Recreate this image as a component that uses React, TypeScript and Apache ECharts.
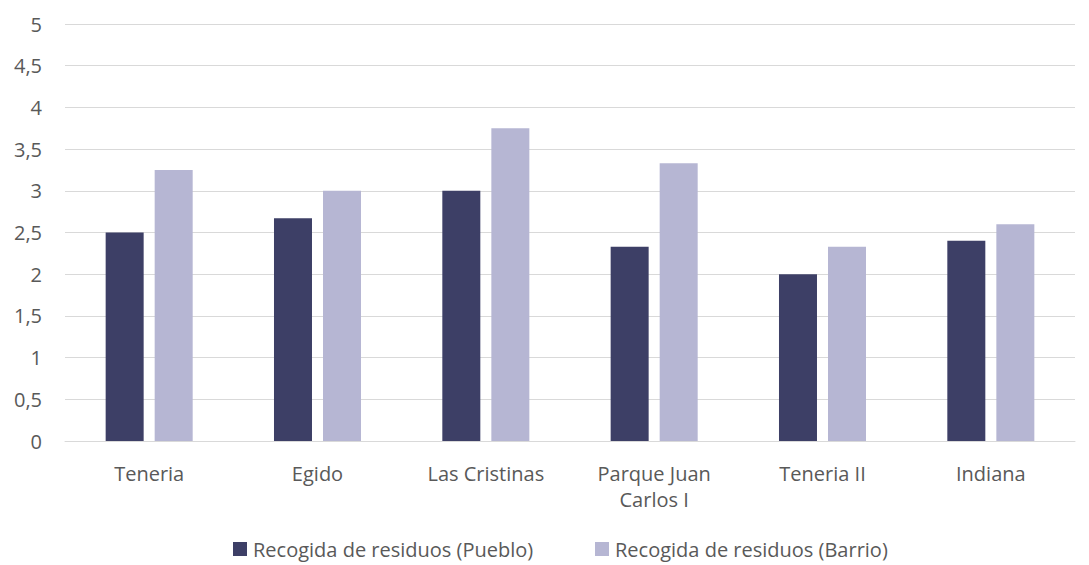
import React, { useEffect, useRef } from "react";
import * as echarts from "echarts";

const categories = ["Teneria", "Egido", "Las Cristinas", "Parque Juan\nCarlos I", "Teneria II", "Indiana"];
const pueblo = [2.5, 2.67, 3.0, 2.33, 2.0, 2.4];
const barrio = [3.25, 3.0, 3.75, 3.33, 2.33, 2.6];
const seriesNames = ["Recogida de residuos (Pueblo)", "Recogida de residuos (Barrio)"];

export default function App() {
  const ref = useRef<HTMLDivElement>(null);
  useEffect(() => {
    if (!ref.current) return;
    const chart = echarts.init(ref.current, null, { renderer: "svg" });
    const font = "'Open Sans', 'Noto Sans', sans-serif";
    const legendCommon = {
      top: 539,
      padding: 0,
      itemWidth: 14,
      itemHeight: 14,
      icon: "rect",
      textStyle: { color: "#595959", fontSize: 20, fontFamily: font, padding: [0, 0, 0, 1] },
    };
    chart.setOption({
      animation: false,
      textStyle: { fontFamily: font },
      grid: { left: 65, right: 14, top: 24, bottom: 124, containLabel: false },
      legend: [
        { ...legendCommon, left: 233, data: [seriesNames[0]] },
        { ...legendCommon, left: 595, data: [seriesNames[1]] },
      ],
      xAxis: {
        type: "category",
        data: categories,
        axisLine: { lineStyle: { color: "#d9d9d9", width: 1 } },
        axisTick: { show: false },
        axisLabel: { color: "#595959", fontSize: 20, margin: 19, lineHeight: 26, fontFamily: font },
      },
      yAxis: {
        type: "value",
        min: 0,
        max: 5,
        interval: 0.5,
        axisLine: { show: false },
        axisTick: { show: false },
        splitLine: { lineStyle: { color: "#d9d9d9", width: 1 } },
        axisLabel: {
          color: "#595959",
          fontSize: 20,
          margin: 23,
          fontFamily: font,
          formatter: (v: number) => String(v).replace(".", ","),
        },
      },
      series: [
        {
          name: seriesNames[0],
          type: "bar",
          data: pueblo,
          barWidth: 38,
          barGap: "29%",
          itemStyle: { color: "#3d3f66" },
        },
        {
          name: seriesNames[1],
          type: "bar",
          data: barrio,
          barWidth: 38,
          itemStyle: { color: "#b6b6d3" },
        },
      ],
    });
    return () => chart.dispose();
  }, []);
  return <div ref={ref} style={{ width: 1089, height: 565, position: "absolute", left: 0, top: 0 }} />;
}
